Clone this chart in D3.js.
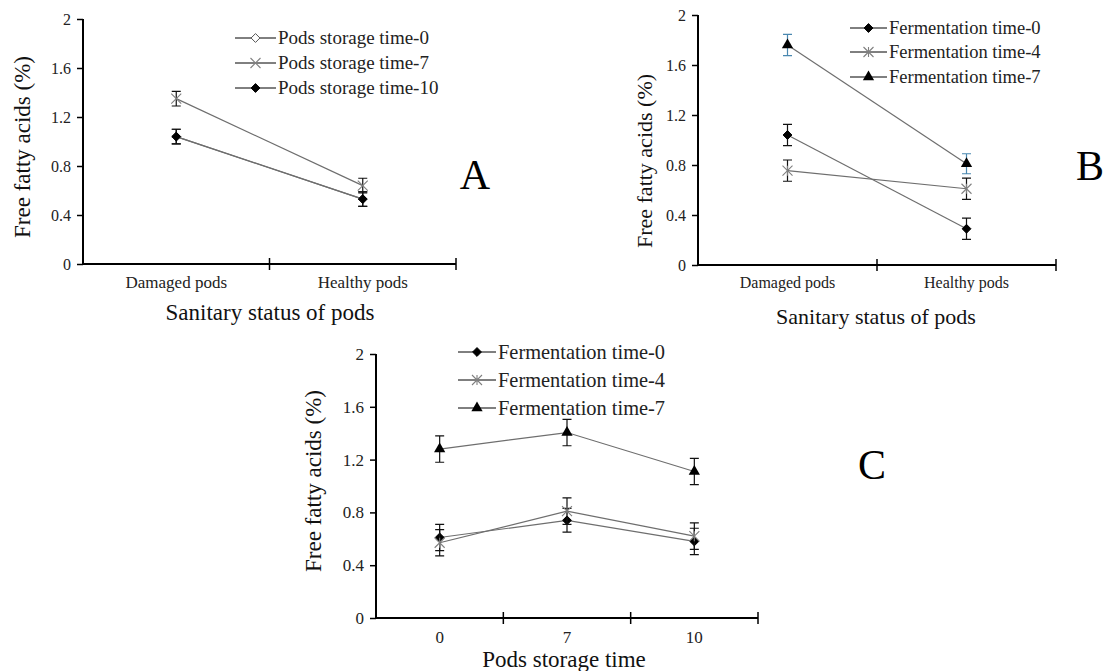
<!DOCTYPE html>
<html><head><meta charset="utf-8">
<script src="https://cdn.jsdelivr.net/npm/d3@7"></script>
<style>
body{margin:0;background:#fff;}
svg{display:block;}
svg text{font-family:"Liberation Serif","Times New Roman",Tinos,"DejaVu Serif",serif !important;}
</style></head>
<body><svg id="chart" width="1107" height="671"></svg>
<script>
// ---------- data ----------
const sanitaryCategories = ["Damaged pods", "Healthy pods"];
const storageCategories = ["0", "7", "10"];
const yTickValues = [0, 0.4, 0.8, 1.2, 1.6, 2];

const aNames = ["Pods storage time-0", "Pods storage time-7", "Pods storage time-10"];
const aTime0 = [1.04, 0.53];
const aTime0Err = [0.06, 0.06];
const aTime7 = [1.35, 0.64];
const aTime7Err = [0.06, 0.06];
const aTime10 = [1.04, 0.53];
const aTime10Err = [0.06, 0.06];

const fermNames = ["Fermentation time-0", "Fermentation time-4", "Fermentation time-7"];
const bFerm0 = [1.04, 0.29];
const bFerm0Err = [0.085, 0.085];
const bFerm4 = [0.755, 0.61];
const bFerm4Err = [0.085, 0.085];
const bFerm7 = [1.76, 0.81];
const bFerm7Err = [0.085, 0.08];

const cFerm0 = [0.61, 0.74, 0.58];
const cFerm0Err = [0.1, 0.09, 0.1];
const cFerm4 = [0.57, 0.81, 0.62];
const cFerm4Err = [0.1, 0.1, 0.1];
const cFerm7 = [1.28, 1.405, 1.11];
const cFerm7Err = [0.1, 0.1, 0.1];

// ---------- drawing ----------
const svg = d3.select("#chart");
const LINE = "#6e6e6e";

function marker(g, type, x, y) {
  if (type === "diamondOpen" || type === "diamond") {
    g.append("path").attr("d", d3.symbol(d3.symbolDiamond2, 50)())
      .attr("transform", `translate(${x},${y})`)
      .attr("fill", type === "diamond" ? "#000" : "#fff").attr("stroke", type === "diamond" ? "#000" : "#555").attr("stroke-width", 1);
  } else if (type === "triangle") {
    g.append("path").attr("d", d3.symbol(d3.symbolTriangle, 55)())
      .attr("transform", `translate(${x},${y})`).attr("fill", "#000");
  } else if (type === "x" || type === "star") {
    const s = 5;
    let d = `M${x - s},${y - s}L${x + s},${y + s}M${x - s},${y + s}L${x + s},${y - s}`;
    if (type === "star") d += `M${x},${y - s}L${x},${y + s}`;
    g.append("path").attr("d", d).attr("stroke", "#808080").attr("stroke-width", 1.1).attr("fill", "none");
  }
}

function panel(cfg) {
  const g = svg.append("g");
  const x = d3.scaleBand().domain(cfg.categories).range([cfg.x0, cfg.x1]).paddingInner(0).paddingOuter(0);
  const y = d3.scaleLinear().domain([0, 2]).range([cfg.yb, cfg.yt]);

  // y axis
  const ya = g.append("g").attr("transform", `translate(${cfg.x0},0)`)
    .call(d3.axisLeft(y).tickValues(yTickValues).tickSize(6).tickPadding(6)
      .tickFormat(d => d3.format("~g")(d)));
  ya.attr("font-family", null);
  ya.select(".domain").attr("stroke", "#000").attr("stroke-width", 2).attr("d", `M0,${cfg.yt}V${cfg.yb}`);
  ya.selectAll(".tick line").attr("stroke", "#000").attr("stroke-width", 1.5);
  ya.selectAll("text").attr("font-size", cfg.tickFont).attr("fill", "#222");

  // x axis line + boundary ticks
  g.append("line").attr("x1", cfg.x0 - 1).attr("x2", cfg.x1).attr("y1", cfg.yb).attr("y2", cfg.yb)
    .attr("stroke", "#000").attr("stroke-width", 2);
  const bounds = cfg.categories.map(c => x(c) + x.step());
  g.selectAll(".bt").data(bounds).enter().append("line")
    .attr("x1", d => d).attr("x2", d => d).attr("y1", cfg.yb - 6).attr("y2", cfg.yb + 6)
    .attr("stroke", "#000").attr("stroke-width", 1.5);
  const xa = g.append("g").attr("transform", `translate(0,${cfg.yb})`)
    .call(d3.axisBottom(x).tickSize(0).tickPadding(cfg.xPad));
  xa.attr("font-family", null);
  xa.select(".domain").remove();
  xa.selectAll("text").attr("font-size", cfg.catFont).attr("fill", "#222");

  // titles
  g.append("text").attr("x", cfg.xTitleX).attr("y", cfg.xTitleY).attr("text-anchor", "middle")
    .attr("font-size", cfg.titleFont).attr("fill", "#111").text(cfg.xTitle);
  g.append("text").attr("transform", `translate(${cfg.yTitleX},${cfg.yTitleCY}) rotate(-90)`)
    .attr("text-anchor", "middle").attr("dy", "0.33em").attr("font-size", cfg.titleFont).attr("fill", "#111")
    .text("Free fatty acids (%)");
  g.append("text").attr("x", cfg.letterX).attr("y", cfg.letterY).attr("text-anchor", "middle")
    .attr("font-size", 42).text(cfg.letter);

  // series
  cfg.series.forEach(s => {
    const pts = cfg.categories.map((c, i) => [x(c) + x.bandwidth() / 2, y(s.values[i])]);
    g.append("path").attr("d", d3.line()(pts)).attr("fill", "none").attr("stroke", LINE).attr("stroke-width", 1.2);
  });
  cfg.series.forEach(s => {
    cfg.categories.forEach((c, i) => {
      const cx = x(c) + x.bandwidth() / 2;
      const top = y(s.values[i] + s.err[i]), bot = y(s.values[i] - s.err[i]);
      const col = s.errColor || "#111";
      g.append("path").attr("d", `M${cx},${top}V${bot}M${cx - 4.5},${top}H${cx + 4.5}M${cx - 4.5},${bot}H${cx + 4.5}`)
        .attr("stroke", col).attr("stroke-width", 1.2).attr("fill", "none");
      marker(g, s.marker, cx, y(s.values[i]));
    });
  });

  // legend
  cfg.series.forEach((s, i) => {
    const ly = cfg.legYs[i];
    g.append("line").attr("x1", cfg.legX).attr("x2", cfg.legX + cfg.legLen).attr("y1", ly).attr("y2", ly)
      .attr("stroke", "#000").attr("stroke-width", 1);
    marker(g, s.marker, cfg.legX + cfg.legLen / 2, ly);
    g.append("text").attr("x", cfg.legX + cfg.legLen + 2).attr("y", ly).attr("dy", "0.33em")
      .attr("font-size", cfg.legFont).attr("fill", "#222").text(s.name);
  });
}

panel({
  categories: sanitaryCategories, x0: 83, x1: 456, yt: 19, yb: 264,
  tickFont: 16, catFont: 17, xPad: 12, titleFont: 23,
  xTitle: "Sanitary status of pods", xTitleX: 270, xTitleY: 320, yTitleX: 22, yTitleCY: 147,
  letter: "A", letterX: 475, letterY: 189,
  legX: 235, legYs: [38, 63, 88], legLen: 41, legFont: 19,
  series: [
    { name: aNames[0], values: aTime0, err: aTime0Err, marker: "diamondOpen" },
    { name: aNames[1], values: aTime7, err: aTime7Err, marker: "x" },
    { name: aNames[2], values: aTime10, err: aTime10Err, marker: "diamond" }
  ]
});

panel({
  categories: sanitaryCategories, x0: 698, x1: 1056, yt: 15, yb: 265,
  tickFont: 16, catFont: 16, xPad: 12, titleFont: 22,
  xTitle: "Sanitary status of pods", xTitleX: 876, xTitleY: 324, yTitleX: 645, yTitleCY: 161,
  letter: "B", letterX: 1090, letterY: 180,
  legX: 850, legYs: [28, 52, 77], legLen: 37, legFont: 18.5,
  series: [
    { name: fermNames[0], values: bFerm0, err: bFerm0Err, marker: "diamond" },
    { name: fermNames[1], values: bFerm4, err: bFerm4Err, marker: "star" },
    { name: fermNames[2], values: bFerm7, err: bFerm7Err, marker: "triangle", errColor: "#4a88b0" }
  ]
});

panel({
  categories: storageCategories, x0: 376, x1: 758, yt: 354, yb: 618,
  tickFont: 17, catFont: 17, xPad: 13, titleFont: 23,
  xTitle: "Pods storage time", xTitleX: 564, xTitleY: 667, yTitleX: 313, yTitleCY: 481,
  letter: "C", letterX: 872, letterY: 479,
  legX: 458, legYs: [352, 380, 408], legLen: 38, legFont: 20.4,
  series: [
    { name: fermNames[0], values: cFerm0, err: cFerm0Err, marker: "diamond" },
    { name: fermNames[1], values: cFerm4, err: cFerm4Err, marker: "star" },
    { name: fermNames[2], values: cFerm7, err: cFerm7Err, marker: "triangle" }
  ]
});
</script>
</body></html>
